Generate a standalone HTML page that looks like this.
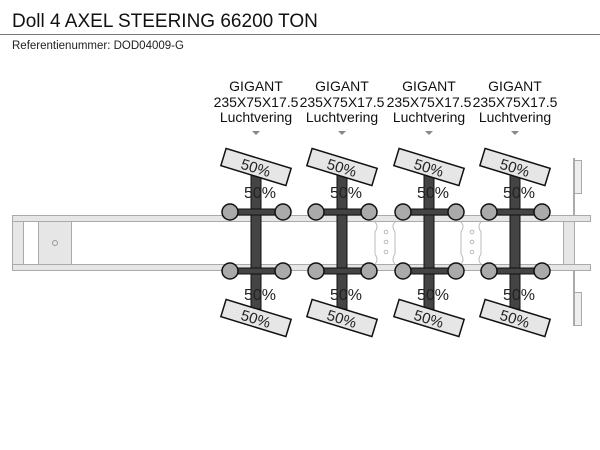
<!DOCTYPE html>
<html><head><style>body{margin:0;background:#fff}svg{display:block}</style></head><body>
<svg width="600" height="450" xmlns="http://www.w3.org/2000/svg" font-family="Liberation Sans, sans-serif">
<text x="12" y="27" font-size="19" fill="#111">Doll 4 AXEL STEERING 66200 TON</text>
<line x1="0" y1="34.5" x2="600" y2="34.5" stroke="#777" stroke-width="1"/>
<text x="12" y="49" font-size="11.5" fill="#222">Referentienummer: DOD04009-G</text>
<g fill="#e6e6e6" stroke="#aaa" stroke-width="1">
<rect x="12.5" y="215.5" width="578" height="6"/>
<rect x="12.5" y="264.5" width="578" height="6"/>
<rect x="12.5" y="221.5" width="11" height="43"/>
<rect x="38.5" y="221.5" width="33" height="43"/>
<rect x="563.5" y="221.5" width="11" height="43"/>
<rect x="574.5" y="160.5" width="7" height="33" fill="#eee"/>
<rect x="574.5" y="292.5" width="7" height="33" fill="#eee"/>
</g>
<line x1="574" y1="158" x2="574" y2="215" stroke="#aaa" stroke-width="2"/>
<line x1="574" y1="270" x2="574" y2="326" stroke="#aaa" stroke-width="2"/>
<circle cx="55" cy="243" r="2.5" fill="none" stroke="#999"/>
<g fill="none" stroke="#bbb" stroke-width="1">
<path d="M375 222 q4 4 0 10 v22 q4 6 0 10 M395 222 q-4 4 0 10 v22 q-4 6 0 10"/>
<path d="M461 222 q4 4 0 10 v22 q4 6 0 10 M481 222 q-4 4 0 10 v22 q-4 6 0 10"/>
<circle cx="386" cy="232" r="1.8"/><circle cx="386" cy="242" r="1.8"/><circle cx="386" cy="252" r="1.8"/>
<circle cx="472" cy="232" r="1.8"/><circle cx="472" cy="242" r="1.8"/><circle cx="472" cy="252" r="1.8"/>
</g>
<defs>
<g id="ax">
<text x="0" y="91" font-size="14" text-anchor="middle" fill="#111">GIGANT</text>
<text x="0" y="107" font-size="14" text-anchor="middle" fill="#111">235X75X17.5</text>
<text x="0" y="122" font-size="14" text-anchor="middle" fill="#111">Luchtvering</text>
<polygon points="-4,131 4,131 0,135" fill="#888"/>
<rect x="-5" y="175" width="10" height="134" fill="#444" stroke="#111" stroke-width="1"/>
<rect x="-26" y="209" width="52" height="6" fill="#444" stroke="#111"/>
<rect x="-26" y="268" width="52" height="6" fill="#444" stroke="#111"/>
<circle cx="-26" cy="212" r="8" fill="#aaa" stroke="#111" stroke-width="1.5"/>
<circle cx="27" cy="212" r="8" fill="#aaa" stroke="#111" stroke-width="1.5"/>
<circle cx="-26" cy="271" r="8" fill="#aaa" stroke="#111" stroke-width="1.5"/>
<circle cx="27" cy="271" r="8" fill="#aaa" stroke="#111" stroke-width="1.5"/>
<g transform="translate(0,167) rotate(17)"><rect x="-34" y="-9" width="68" height="18" fill="#e6e6e6" stroke="#111" stroke-width="1.5"/><text x="0" y="6" font-size="15" text-anchor="middle" fill="#222">50%</text></g>
<g transform="translate(0,318) rotate(17)"><rect x="-34" y="-9" width="68" height="18" fill="#e6e6e6" stroke="#111" stroke-width="1.5"/><text x="0" y="6" font-size="15" text-anchor="middle" fill="#222">50%</text></g>
<text x="4" y="198" font-size="16" text-anchor="middle" fill="#222">50%</text>
<text x="4" y="300" font-size="16" text-anchor="middle" fill="#222">50%</text>
</g>
</defs>
<use href="#ax" x="256"/>
<use href="#ax" x="342"/>
<use href="#ax" x="429"/>
<use href="#ax" x="515"/>
</svg>
</body></html>
